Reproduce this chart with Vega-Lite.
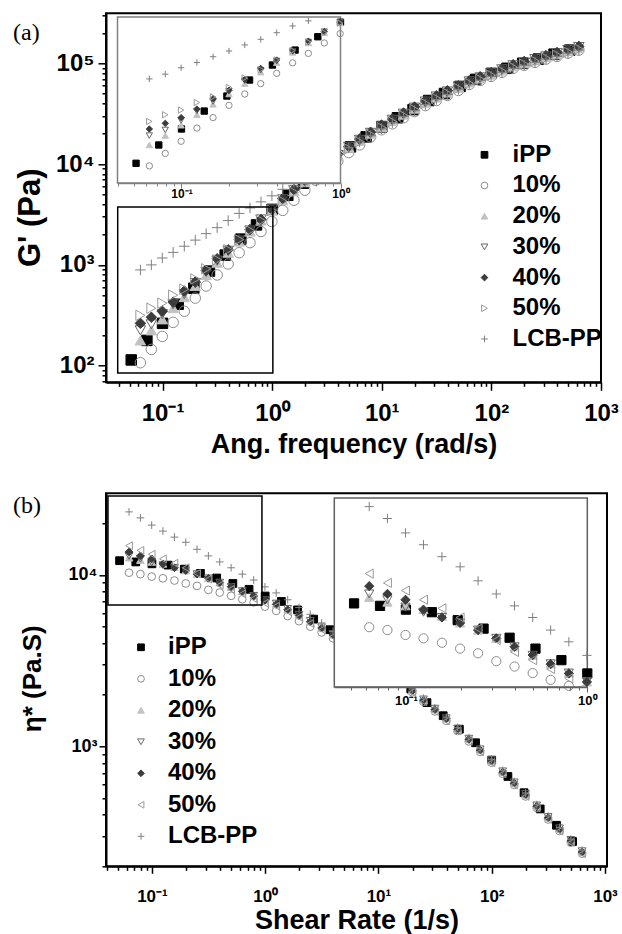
{
"$schema": "https://vega.github.io/schema/vega-lite/v6.json",
"background": "white",
"padding": {"left": 12, "top": 12.3, "right": 0, "bottom": 0},
"bounds": "flush",
"spacing": 111,
"config": {
  "font": "Liberation Sans",
  "view": {"stroke": "black", "strokeWidth": 2},
  "axis": {"grid": false, "domainColor": "black", "domainWidth": 2, "tickColor": "black", "tickWidth": 1.5, "labelFont": "Liberation Sans", "labelFontWeight": "bold", "labelColor": "black", "titleFont": "Liberation Sans", "titleFontWeight": "bold", "titleColor": "black", "labelOverlap": false, "labelFlush": false},
  "legend": {"padding": 0, "labelFont": "Liberation Sans", "labelFontWeight": "bold", "labelColor": "black", "symbolStrokeWidth": 1, "labelLimit": 400}
},
"resolve": {"scale": {"fill": "independent", "stroke": "independent", "shape": "independent"}},
"datasets": {
"a": [
{"s":"iPP","w":0.0518,"v":114},{"s":"iPP","w":0.072,"v":178},{"s":"iPP","w":0.1,"v":263},{"s":"iPP","w":0.139,"v":407},{"s":"iPP","w":0.193,"v":587},{"s":"iPP","w":0.268,"v":867},{"s":"iPP","w":0.373,"v":1250},{"s":"iPP","w":0.518,"v":1800},{"s":"iPP","w":0.72,"v":2490},{"s":"iPP","w":1,"v":3550},{"s":"iPP","w":1.39,"v":4900},{"s":"iPP","w":1.93,"v":6460},{"s":"iPP","w":2.68,"v":8710},{"s":"iPP","w":3.73,"v":11500},{"s":"iPP","w":5.18,"v":14800},{"s":"iPP","w":7.2,"v":18600},{"s":"iPP","w":10,"v":23400},{"s":"iPP","w":13.9,"v":28800},{"s":"iPP","w":19.3,"v":34700},{"s":"iPP","w":26.8,"v":42700},{"s":"iPP","w":37.3,"v":50100},{"s":"iPP","w":51.8,"v":58900},{"s":"iPP","w":72,"v":69200},{"s":"iPP","w":100,"v":79400},{"s":"iPP","w":139,"v":89100},{"s":"iPP","w":193,"v":100000},{"s":"iPP","w":268,"v":110000},{"s":"iPP","w":373,"v":123000},{"s":"iPP","w":518,"v":135000},
{"s":"10%","w":0.0628,"v":107},{"s":"10%","w":0.0791,"v":145},{"s":"10%","w":0.0995,"v":195},{"s":"10%","w":0.125,"v":269},{"s":"10%","w":0.158,"v":347},{"s":"10%","w":0.199,"v":468},{"s":"10%","w":0.25,"v":617},{"s":"10%","w":0.315,"v":794},{"s":"10%","w":0.397,"v":1020},{"s":"10%","w":0.5,"v":1320},{"s":"10%","w":0.628,"v":1660},{"s":"10%","w":0.791,"v":2140},{"s":"10%","w":0.995,"v":2690},{"s":"10%","w":1.25,"v":3470},{"s":"10%","w":1.58,"v":4370},{"s":"10%","w":1.99,"v":5500},{"s":"10%","w":2.5,"v":6920},{"s":"10%","w":3.15,"v":8710},{"s":"10%","w":3.97,"v":10700},{"s":"10%","w":5,"v":13000},{"s":"10%","w":6.28,"v":15500},{"s":"10%","w":7.91,"v":18600},{"s":"10%","w":9.95,"v":21900},{"s":"10%","w":12.5,"v":25100},{"s":"10%","w":15.8,"v":28800},{"s":"10%","w":19.9,"v":33100},{"s":"10%","w":25,"v":38000},{"s":"10%","w":31.5,"v":42700},{"s":"10%","w":39.7,"v":47900},{"s":"10%","w":50,"v":53700},{"s":"10%","w":62.8,"v":61700},{"s":"10%","w":79.1,"v":67600},{"s":"10%","w":99.5,"v":74100},{"s":"10%","w":125,"v":81300},{"s":"10%","w":158,"v":89100},{"s":"10%","w":199,"v":95500},{"s":"10%","w":250,"v":102000},{"s":"10%","w":315,"v":110000},{"s":"10%","w":397,"v":117000},{"s":"10%","w":500,"v":126000},{"s":"10%","w":628,"v":135000},
{"s":"20%","w":0.0628,"v":178},{"s":"20%","w":0.0791,"v":224},{"s":"20%","w":0.0995,"v":288},{"s":"20%","w":0.125,"v":372},{"s":"20%","w":0.158,"v":479},{"s":"20%","w":0.199,"v":617},{"s":"20%","w":0.25,"v":794},{"s":"20%","w":0.315,"v":1050},{"s":"20%","w":0.397,"v":1320},{"s":"20%","w":0.5,"v":1700},{"s":"20%","w":0.628,"v":2140},{"s":"20%","w":0.791,"v":2750},{"s":"20%","w":0.995,"v":3470},{"s":"20%","w":1.25,"v":4370},{"s":"20%","w":1.58,"v":5370},{"s":"20%","w":1.99,"v":6610},{"s":"20%","w":2.5,"v":8130},{"s":"20%","w":3.15,"v":10000},{"s":"20%","w":3.97,"v":12000},{"s":"20%","w":5,"v":14500},{"s":"20%","w":6.28,"v":17000},{"s":"20%","w":7.91,"v":20000},{"s":"20%","w":9.95,"v":23400},{"s":"20%","w":12.5,"v":26900},{"s":"20%","w":15.8,"v":30900},{"s":"20%","w":19.9,"v":35500},{"s":"20%","w":25,"v":40700},{"s":"20%","w":31.5,"v":45700},{"s":"20%","w":39.7,"v":51300},{"s":"20%","w":50,"v":57500},{"s":"20%","w":62.8,"v":64600},{"s":"20%","w":79.1,"v":70800},{"s":"20%","w":99.5,"v":77600},{"s":"20%","w":125,"v":85100},{"s":"20%","w":158,"v":93300},{"s":"20%","w":199,"v":100000},{"s":"20%","w":250,"v":107000},{"s":"20%","w":315,"v":115000},{"s":"20%","w":397,"v":123000},{"s":"20%","w":500,"v":132000},{"s":"20%","w":628,"v":141000},
{"s":"30%","w":0.0628,"v":224},{"s":"30%","w":0.0791,"v":257},{"s":"30%","w":0.0995,"v":324},{"s":"30%","w":0.125,"v":407},{"s":"30%","w":0.158,"v":513},{"s":"30%","w":0.199,"v":661},{"s":"30%","w":0.25,"v":851},{"s":"30%","w":0.315,"v":1100},{"s":"30%","w":0.397,"v":1380},{"s":"30%","w":0.5,"v":1740},{"s":"30%","w":0.628,"v":2190},{"s":"30%","w":0.791,"v":2820},{"s":"30%","w":0.995,"v":3550},{"s":"30%","w":1.25,"v":4470},{"s":"30%","w":1.58,"v":5500},{"s":"30%","w":1.99,"v":6760},{"s":"30%","w":2.5,"v":8320},{"s":"30%","w":3.15,"v":10200},{"s":"30%","w":3.97,"v":12300},{"s":"30%","w":5,"v":14800},{"s":"30%","w":6.28,"v":17400},{"s":"30%","w":7.91,"v":20400},{"s":"30%","w":9.95,"v":24000},{"s":"30%","w":12.5,"v":27500},{"s":"30%","w":15.8,"v":31600},{"s":"30%","w":19.9,"v":36300},{"s":"30%","w":25,"v":41700},{"s":"30%","w":31.5,"v":46800},{"s":"30%","w":39.7,"v":52500},{"s":"30%","w":50,"v":58900},{"s":"30%","w":62.8,"v":66100},{"s":"30%","w":79.1,"v":72400},{"s":"30%","w":99.5,"v":79400},{"s":"30%","w":125,"v":87100},{"s":"30%","w":158,"v":95500},{"s":"30%","w":199,"v":102000},{"s":"30%","w":250,"v":110000},{"s":"30%","w":315,"v":117000},{"s":"30%","w":397,"v":126000},{"s":"30%","w":500,"v":135000},{"s":"30%","w":628,"v":145000},
{"s":"40%","w":0.0628,"v":263},{"s":"40%","w":0.0791,"v":302},{"s":"40%","w":0.0995,"v":347},{"s":"40%","w":0.125,"v":427},{"s":"40%","w":0.158,"v":550},{"s":"40%","w":0.199,"v":676},{"s":"40%","w":0.25,"v":881},{"s":"40%","w":0.315,"v":1150},{"s":"40%","w":0.397,"v":1410},{"s":"40%","w":0.5,"v":1780},{"s":"40%","w":0.628,"v":2240},{"s":"40%","w":0.791,"v":2820},{"s":"40%","w":0.995,"v":3550},{"s":"40%","w":1.25,"v":4540},{"s":"40%","w":1.58,"v":5580},{"s":"40%","w":1.99,"v":6860},{"s":"40%","w":2.5,"v":8440},{"s":"40%","w":3.15,"v":10400},{"s":"40%","w":3.97,"v":12500},{"s":"40%","w":5,"v":15000},{"s":"40%","w":6.28,"v":17700},{"s":"40%","w":7.91,"v":20700},{"s":"40%","w":9.95,"v":24400},{"s":"40%","w":12.5,"v":27900},{"s":"40%","w":15.8,"v":32100},{"s":"40%","w":19.9,"v":36800},{"s":"40%","w":25,"v":42300},{"s":"40%","w":31.5,"v":47500},{"s":"40%","w":39.7,"v":53300},{"s":"40%","w":50,"v":59800},{"s":"40%","w":62.8,"v":67100},{"s":"40%","w":79.1,"v":73500},{"s":"40%","w":99.5,"v":80600},{"s":"40%","w":125,"v":88400},{"s":"40%","w":158,"v":96900},{"s":"40%","w":199,"v":104000},{"s":"40%","w":250,"v":112000},{"s":"40%","w":315,"v":119000},{"s":"40%","w":397,"v":128000},{"s":"40%","w":500,"v":137000},{"s":"40%","w":628,"v":147000},
{"s":"50%","w":0.0628,"v":316},{"s":"50%","w":0.0791,"v":372},{"s":"50%","w":0.0995,"v":417},{"s":"50%","w":0.125,"v":501},{"s":"50%","w":0.158,"v":575},{"s":"50%","w":0.199,"v":724},{"s":"50%","w":0.25,"v":912},{"s":"50%","w":0.315,"v":1120},{"s":"50%","w":0.397,"v":1410},{"s":"50%","w":0.5,"v":1780},{"s":"50%","w":0.628,"v":2190},{"s":"50%","w":0.791,"v":2750},{"s":"50%","w":0.995,"v":3470},{"s":"50%","w":1.25,"v":4270},{"s":"50%","w":1.58,"v":5250},{"s":"50%","w":1.99,"v":6460},{"s":"50%","w":2.5,"v":7940},{"s":"50%","w":3.15,"v":9770},{"s":"50%","w":3.97,"v":11700},{"s":"50%","w":5,"v":14100},{"s":"50%","w":6.28,"v":16600},{"s":"50%","w":7.91,"v":19500},{"s":"50%","w":9.95,"v":22900},{"s":"50%","w":12.5,"v":26300},{"s":"50%","w":15.8,"v":30200},{"s":"50%","w":19.9,"v":34700},{"s":"50%","w":25,"v":39800},{"s":"50%","w":31.5,"v":44700},{"s":"50%","w":39.7,"v":50100},{"s":"50%","w":50,"v":56200},{"s":"50%","w":62.8,"v":63100},{"s":"50%","w":79.1,"v":69200},{"s":"50%","w":99.5,"v":75900},{"s":"50%","w":125,"v":83200},{"s":"50%","w":158,"v":91200},{"s":"50%","w":199,"v":97700},{"s":"50%","w":250,"v":105000},{"s":"50%","w":315,"v":112000},{"s":"50%","w":397,"v":120000},{"s":"50%","w":500,"v":129000},{"s":"50%","w":628,"v":138000},
{"s":"LCB-PP","w":0.0628,"v":891},{"s":"LCB-PP","w":0.0791,"v":1000},{"s":"LCB-PP","w":0.0995,"v":1170},{"s":"LCB-PP","w":0.125,"v":1330},{"s":"LCB-PP","w":0.158,"v":1530},{"s":"LCB-PP","w":0.199,"v":1760},{"s":"LCB-PP","w":0.25,"v":2040},{"s":"LCB-PP","w":0.315,"v":2340},{"s":"LCB-PP","w":0.397,"v":2750},{"s":"LCB-PP","w":0.5,"v":3240},{"s":"LCB-PP","w":0.628,"v":3670},{"s":"LCB-PP","w":0.791,"v":4220},{"s":"LCB-PP","w":0.995,"v":4840},{"s":"LCB-PP","w":1.25,"v":5620},{"s":"LCB-PP","w":1.58,"v":6610},{"s":"LCB-PP","w":1.99,"v":7760},{"s":"LCB-PP","w":2.5,"v":9120},{"s":"LCB-PP","w":3.15,"v":10700},{"s":"LCB-PP","w":3.97,"v":12400},{"s":"LCB-PP","w":5,"v":14500},{"s":"LCB-PP","w":6.28,"v":16600},{"s":"LCB-PP","w":7.91,"v":19100},{"s":"LCB-PP","w":9.95,"v":22400},{"s":"LCB-PP","w":12.5,"v":25700},{"s":"LCB-PP","w":15.8,"v":29500},{"s":"LCB-PP","w":19.9,"v":33900},{"s":"LCB-PP","w":25,"v":38900},{"s":"LCB-PP","w":31.5,"v":43700},{"s":"LCB-PP","w":39.7,"v":49000},{"s":"LCB-PP","w":50,"v":55000},{"s":"LCB-PP","w":62.8,"v":61700},{"s":"LCB-PP","w":79.1,"v":67600},{"s":"LCB-PP","w":99.5,"v":74100},{"s":"LCB-PP","w":125,"v":81300},{"s":"LCB-PP","w":158,"v":89100},{"s":"LCB-PP","w":199,"v":95500},{"s":"LCB-PP","w":250,"v":102000},{"s":"LCB-PP","w":315,"v":110000},{"s":"LCB-PP","w":397,"v":117000},{"s":"LCB-PP","w":500,"v":126000},{"s":"LCB-PP","w":628,"v":135000}
],
"b": [
{"s":"iPP","w":0.0518,"v":12100},{"s":"iPP","w":0.072,"v":11900},{"s":"iPP","w":0.1,"v":11600},{"s":"iPP","w":0.139,"v":11400},{"s":"iPP","w":0.193,"v":10800},{"s":"iPP","w":0.268,"v":10200},{"s":"iPP","w":0.373,"v":9590},{"s":"iPP","w":0.518,"v":8910},{"s":"iPP","w":0.72,"v":8240},{"s":"iPP","w":1,"v":7530},{"s":"iPP","w":1.39,"v":7000},{"s":"iPP","w":1.93,"v":6250},{"s":"iPP","w":2.68,"v":5520},{"s":"iPP","w":3.73,"v":4790},{"s":"iPP","w":5.18,"v":4070},{"s":"iPP","w":7.2,"v":3510},{"s":"iPP","w":10,"v":3020},{"s":"iPP","w":13.9,"v":2570},{"s":"iPP","w":19.3,"v":2160},{"s":"iPP","w":26.8,"v":1800},{"s":"iPP","w":37.3,"v":1510},{"s":"iPP","w":51.8,"v":1260},{"s":"iPP","w":72,"v":1050},{"s":"iPP","w":100,"v":832},{"s":"iPP","w":139,"v":668},{"s":"iPP","w":193,"v":537},{"s":"iPP","w":268,"v":432},{"s":"iPP","w":373,"v":347},{"s":"iPP","w":518,"v":279},
{"s":"10%","w":0.0628,"v":10300},{"s":"10%","w":0.0791,"v":10100},{"s":"10%","w":0.0995,"v":9770},{"s":"10%","w":0.125,"v":9550},{"s":"10%","w":0.158,"v":9270},{"s":"10%","w":0.199,"v":8910},{"s":"10%","w":0.25,"v":8630},{"s":"10%","w":0.315,"v":8180},{"s":"10%","w":0.397,"v":7890},{"s":"10%","w":0.5,"v":7550},{"s":"10%","w":0.628,"v":7210},{"s":"10%","w":0.791,"v":6920},{"s":"10%","w":0.995,"v":6530},{"s":"10%","w":1.25,"v":6170},{"s":"10%","w":1.58,"v":5750},{"s":"10%","w":1.99,"v":5370},{"s":"10%","w":2.5,"v":4990},{"s":"10%","w":3.15,"v":4620},{"s":"10%","w":3.97,"v":4270},{"s":"10%","w":5,"v":3910},{"s":"10%","w":6.28,"v":3560},{"s":"10%","w":7.91,"v":3240},{"s":"10%","w":9.95,"v":2920},{"s":"10%","w":12.5,"v":2620},{"s":"10%","w":15.8,"v":2340},{"s":"10%","w":19.9,"v":2070},{"s":"10%","w":25,"v":1820},{"s":"10%","w":31.5,"v":1600},{"s":"10%","w":39.7,"v":1410},{"s":"10%","w":50,"v":1230},{"s":"10%","w":62.8,"v":1070},{"s":"10%","w":79.1,"v":929},{"s":"10%","w":99.5,"v":804},{"s":"10%","w":125,"v":692},{"s":"10%","w":158,"v":596},{"s":"10%","w":199,"v":511},{"s":"10%","w":250,"v":438},{"s":"10%","w":315,"v":375},{"s":"10%","w":397,"v":321},{"s":"10%","w":500,"v":275},{"s":"10%","w":628,"v":237},
{"s":"20%","w":0.0628,"v":12600},{"s":"20%","w":0.0791,"v":12200},{"s":"20%","w":0.0995,"v":11900},{"s":"20%","w":0.125,"v":11600},{"s":"20%","w":0.158,"v":11100},{"s":"20%","w":0.199,"v":10600},{"s":"20%","w":0.25,"v":10100},{"s":"20%","w":0.315,"v":9550},{"s":"20%","w":0.397,"v":9020},{"s":"20%","w":0.5,"v":8510},{"s":"20%","w":0.628,"v":8040},{"s":"20%","w":0.791,"v":7550},{"s":"20%","w":0.995,"v":7110},{"s":"20%","w":1.25,"v":6730},{"s":"20%","w":1.58,"v":6270},{"s":"20%","w":1.99,"v":5790},{"s":"20%","w":2.5,"v":5330},{"s":"20%","w":3.15,"v":4900},{"s":"20%","w":3.97,"v":4470},{"s":"20%","w":5,"v":4060},{"s":"20%","w":6.28,"v":3660},{"s":"20%","w":7.91,"v":3310},{"s":"20%","w":9.95,"v":2990},{"s":"20%","w":12.5,"v":2680},{"s":"20%","w":15.8,"v":2400},{"s":"20%","w":19.9,"v":2110},{"s":"20%","w":25,"v":1860},{"s":"20%","w":31.5,"v":1640},{"s":"20%","w":39.7,"v":1450},{"s":"20%","w":50,"v":1260},{"s":"20%","w":62.8,"v":1100},{"s":"20%","w":79.1,"v":951},{"s":"20%","w":99.5,"v":822},{"s":"20%","w":125,"v":708},{"s":"20%","w":158,"v":610},{"s":"20%","w":199,"v":522},{"s":"20%","w":250,"v":448},{"s":"20%","w":315,"v":384},{"s":"20%","w":397,"v":329},{"s":"20%","w":500,"v":282},{"s":"20%","w":628,"v":242},
{"s":"30%","w":0.0628,"v":12900},{"s":"30%","w":0.0791,"v":12400},{"s":"30%","w":0.0995,"v":11800},{"s":"30%","w":0.125,"v":11400},{"s":"30%","w":0.158,"v":11000},{"s":"30%","w":0.199,"v":10600},{"s":"30%","w":0.25,"v":10100},{"s":"30%","w":0.315,"v":9550},{"s":"30%","w":0.397,"v":9020},{"s":"30%","w":0.5,"v":8510},{"s":"30%","w":0.628,"v":8040},{"s":"30%","w":0.791,"v":7550},{"s":"30%","w":0.995,"v":7130},{"s":"30%","w":1.25,"v":6810},{"s":"30%","w":1.58,"v":6340},{"s":"30%","w":1.99,"v":5860},{"s":"30%","w":2.5,"v":5400},{"s":"30%","w":3.15,"v":4950},{"s":"30%","w":3.97,"v":4520},{"s":"30%","w":5,"v":4100},{"s":"30%","w":6.28,"v":3710},{"s":"30%","w":7.91,"v":3350},{"s":"30%","w":9.95,"v":3020},{"s":"30%","w":12.5,"v":2710},{"s":"30%","w":15.8,"v":2430},{"s":"30%","w":19.9,"v":2140},{"s":"30%","w":25,"v":1880},{"s":"30%","w":31.5,"v":1660},{"s":"30%","w":39.7,"v":1460},{"s":"30%","w":50,"v":1270},{"s":"30%","w":62.8,"v":1110},{"s":"30%","w":79.1,"v":962},{"s":"30%","w":99.5,"v":832},{"s":"30%","w":125,"v":716},{"s":"30%","w":158,"v":617},{"s":"30%","w":199,"v":528},{"s":"30%","w":250,"v":453},{"s":"30%","w":315,"v":388},{"s":"30%","w":397,"v":333},{"s":"30%","w":500,"v":285},{"s":"30%","w":628,"v":245},
{"s":"40%","w":0.0628,"v":13600},{"s":"40%","w":0.0791,"v":12900},{"s":"40%","w":0.0995,"v":12400},{"s":"40%","w":0.125,"v":11600},{"s":"40%","w":0.158,"v":11000},{"s":"40%","w":0.199,"v":10600},{"s":"40%","w":0.25,"v":10100},{"s":"40%","w":0.315,"v":9550},{"s":"40%","w":0.397,"v":9020},{"s":"40%","w":0.5,"v":8530},{"s":"40%","w":0.628,"v":8020},{"s":"40%","w":0.791,"v":7530},{"s":"40%","w":0.995,"v":7110},{"s":"40%","w":1.25,"v":6730},{"s":"40%","w":1.58,"v":6270},{"s":"40%","w":1.99,"v":5790},{"s":"40%","w":2.5,"v":5330},{"s":"40%","w":3.15,"v":4900},{"s":"40%","w":3.97,"v":4470},{"s":"40%","w":5,"v":4060},{"s":"40%","w":6.28,"v":3660},{"s":"40%","w":7.91,"v":3310},{"s":"40%","w":9.95,"v":2990},{"s":"40%","w":12.5,"v":2680},{"s":"40%","w":15.8,"v":2400},{"s":"40%","w":19.9,"v":2110},{"s":"40%","w":25,"v":1860},{"s":"40%","w":31.5,"v":1640},{"s":"40%","w":39.7,"v":1450},{"s":"40%","w":50,"v":1260},{"s":"40%","w":62.8,"v":1100},{"s":"40%","w":79.1,"v":951},{"s":"40%","w":99.5,"v":822},{"s":"40%","w":125,"v":708},{"s":"40%","w":158,"v":610},{"s":"40%","w":199,"v":522},{"s":"40%","w":250,"v":448},{"s":"40%","w":315,"v":384},{"s":"40%","w":397,"v":329},{"s":"40%","w":500,"v":282},{"s":"40%","w":628,"v":242},
{"s":"50%","w":0.0628,"v":14800},{"s":"50%","w":0.0791,"v":13900},{"s":"50%","w":0.0995,"v":13200},{"s":"50%","w":0.125,"v":12400},{"s":"50%","w":0.158,"v":11700},{"s":"50%","w":0.199,"v":11000},{"s":"50%","w":0.25,"v":10200},{"s":"50%","w":0.315,"v":9440},{"s":"50%","w":0.397,"v":8710},{"s":"50%","w":0.5,"v":8240},{"s":"50%","w":0.628,"v":7760},{"s":"50%","w":0.791,"v":7280},{"s":"50%","w":0.995,"v":6840},{"s":"50%","w":1.25,"v":6580},{"s":"50%","w":1.58,"v":6120},{"s":"50%","w":1.99,"v":5660},{"s":"50%","w":2.5,"v":5210},{"s":"50%","w":3.15,"v":4790},{"s":"50%","w":3.97,"v":4370},{"s":"50%","w":5,"v":3960},{"s":"50%","w":6.28,"v":3580},{"s":"50%","w":7.91,"v":3240},{"s":"50%","w":9.95,"v":2920},{"s":"50%","w":12.5,"v":2620},{"s":"50%","w":15.8,"v":2340},{"s":"50%","w":19.9,"v":2070},{"s":"50%","w":25,"v":1820},{"s":"50%","w":31.5,"v":1600},{"s":"50%","w":39.7,"v":1410},{"s":"50%","w":50,"v":1230},{"s":"50%","w":62.8,"v":1070},{"s":"50%","w":79.1,"v":929},{"s":"50%","w":99.5,"v":804},{"s":"50%","w":125,"v":692},{"s":"50%","w":158,"v":596},{"s":"50%","w":199,"v":511},{"s":"50%","w":250,"v":438},{"s":"50%","w":315,"v":375},{"s":"50%","w":397,"v":321},{"s":"50%","w":500,"v":275},{"s":"50%","w":628,"v":237},
{"s":"LCB-PP","w":0.0628,"v":23300},{"s":"LCB-PP","w":0.0791,"v":21500},{"s":"LCB-PP","w":0.0995,"v":19500},{"s":"LCB-PP","w":0.125,"v":18000},{"s":"LCB-PP","w":0.158,"v":16600},{"s":"LCB-PP","w":0.199,"v":15500},{"s":"LCB-PP","w":0.25,"v":14100},{"s":"LCB-PP","w":0.315,"v":12900},{"s":"LCB-PP","w":0.397,"v":11900},{"s":"LCB-PP","w":0.5,"v":11000},{"s":"LCB-PP","w":0.628,"v":10100},{"s":"LCB-PP","w":0.791,"v":9330},{"s":"LCB-PP","w":0.995,"v":8510},{"s":"LCB-PP","w":1.25,"v":7850},{"s":"LCB-PP","w":1.58,"v":7160},{"s":"LCB-PP","w":1.99,"v":6460},{"s":"LCB-PP","w":2.5,"v":5890},{"s":"LCB-PP","w":3.15,"v":5250},{"s":"LCB-PP","w":3.97,"v":4680},{"s":"LCB-PP","w":5,"v":4170},{"s":"LCB-PP","w":6.28,"v":3720},{"s":"LCB-PP","w":7.91,"v":3350},{"s":"LCB-PP","w":9.95,"v":3020},{"s":"LCB-PP","w":12.5,"v":2740},{"s":"LCB-PP","w":15.8,"v":2450},{"s":"LCB-PP","w":19.9,"v":2160},{"s":"LCB-PP","w":25,"v":1910},{"s":"LCB-PP","w":31.5,"v":1680},{"s":"LCB-PP","w":39.7,"v":1480},{"s":"LCB-PP","w":50,"v":1290},{"s":"LCB-PP","w":62.8,"v":1120},{"s":"LCB-PP","w":79.1,"v":973},{"s":"LCB-PP","w":99.5,"v":841},{"s":"LCB-PP","w":125,"v":724},{"s":"LCB-PP","w":158,"v":624},{"s":"LCB-PP","w":199,"v":535},{"s":"LCB-PP","w":250,"v":458},{"s":"LCB-PP","w":315,"v":393},{"s":"LCB-PP","w":397,"v":337},{"s":"LCB-PP","w":500,"v":288},{"s":"LCB-PP","w":628,"v":248}
]
},
"vconcat": [
{
 "width": 495, "height": 369,
 "title": {"text": "(a)", "orient": "none", "anchor": "start", "frame": "group", "offset": 0, "dx": -93, "dy": 27, "baseline": "alphabetic", "font": "Liberation Serif", "fontSize": 24, "fontWeight": "normal", "color": "black"},
 "data": {"name": "a"},
 "resolve": {"scale": {"x": "independent", "y": "independent"}, "axis": {"x": "independent", "y": "independent"}},
 "layer": [
   {"mark": {"type": "point", "size": 110, "strokeWidth": 1, "opacity": 1},
    "encoding": {
     "x": {"field": "w", "type": "quantitative", "scale": {"type": "log", "domain": [0.0305, 1000], "nice": false},
       "axis": {"values": [0.04,0.05,0.06,0.07,0.08,0.09,0.1,0.2,0.3,0.4,0.5,0.6,0.7,0.8,0.9,1,2,3,4,5,6,7,8,9,10,20,30,40,50,60,70,80,90,100,200,300,400,500,600,700,800,900,1000],
        "labelExpr": "abs(log(datum.value)/LN10-round(log(datum.value)/LN10))<0.001 ? '10'+['⁻¹','⁰','¹','²','³','⁴','⁵'][round(log(datum.value)/LN10)+1] : ''",
        "tickSize": {"condition": {"test": "abs(log(datum.value)/LN10-round(log(datum.value)/LN10))<0.001", "value": 8}, "value": 4},
        "labelFontSize": 24, "labelBaseline": "alphabetic", "labelPadding": 30,
        "title": "Ang. frequency (rad/s)", "titleFontSize": 27, "titleY": 70, "titleBaseline": "alphabetic"}},
     "y": {"field": "v", "type": "quantitative", "scale": {"type": "log", "domain": [68.4, 313000], "nice": false},
       "axis": {"values": [70,80,90,100,200,300,400,500,600,700,800,900,1000,2000,3000,4000,5000,6000,7000,8000,9000,10000,20000,30000,40000,50000,60000,70000,80000,90000,100000,200000,300000],
        "labelExpr": "abs(log(datum.value)/LN10-round(log(datum.value)/LN10))<0.001 ? '10'+['⁻¹','⁰','¹','²','³','⁴','⁵'][round(log(datum.value)/LN10)+1] : ''",
        "tickSize": {"condition": {"test": "abs(log(datum.value)/LN10-round(log(datum.value)/LN10))<0.001", "value": 8}, "value": 4},
        "labelFontSize": {"condition": {"test": "abs(log(datum.value)/LN10-round(log(datum.value)/LN10))<0.001", "value": 24}, "value": 1},
        "labelPadding": 4,
        "title": "G' (Pa)", "titleFontSize": 31, "titleX": -67, "titleY": 204, "titleAlign": "center", "titleBaseline": "alphabetic"}},
     "fill": {"field": "s", "type": "nominal", "scale": {"domain": ["iPP","10%","20%","30%","40%","50%","LCB-PP"], "range": ["#000000","transparent","#c2c2c2","transparent","#3c3c3c","transparent","transparent"]},
       "legend": {"orient": "none", "legendX": 366.5, "legendY": 129.5, "title": null, "labelFontSize": 24, "symbolSize": 45, "rowPadding": 6.7, "labelOffset": 16}},
     "stroke": {"field": "s", "type": "nominal", "scale": {"domain": ["iPP","10%","20%","30%","40%","50%","LCB-PP"], "range": ["#000000","#8c8c8c","#c2c2c2","#666666","#3c3c3c","#9a9a9a","#808080"]},
       "legend": {"orient": "none", "legendX": 366.5, "legendY": 129.5, "title": null, "labelFontSize": 24, "symbolSize": 45, "rowPadding": 6.7, "labelOffset": 16}},
     "shape": {"field": "s", "type": "nominal", "scale": {"domain": ["iPP","10%","20%","30%","40%","50%","LCB-PP"], "range": ["square","circle","triangle-up","triangle-down","diamond","triangle-right","M-1,0L1,0M0,-1L0,1"]},
       "legend": {"orient": "none", "legendX": 366.5, "legendY": 129.5, "title": null, "labelFontSize": 24, "symbolSize": 45, "rowPadding": 6.7, "labelOffset": 16}}
    }},
   {"data": {"values": [{}]},
    "mark": {"type": "rect", "filled": false, "stroke": "black", "strokeWidth": 1.5},
    "encoding": {
     "x": {"datum": 0.039, "type": "quantitative", "scale": {"type": "log", "domain": [0.0305, 1000], "nice": false}, "axis": null},
     "x2": {"datum": 1.015},
     "y": {"datum": 84.7, "type": "quantitative", "scale": {"type": "log", "domain": [68.4, 313000], "nice": false}, "axis": null},
     "y2": {"datum": 3750}
    }},
   {"data": {"values": [{}]},
    "mark": {"type": "rect", "fill": "white", "stroke": "#808080", "strokeWidth": 1.5},
    "encoding": {
     "x": {"datum": 0.0396, "type": "quantitative", "scale": {"type": "log", "domain": [0.0396, 1], "range": [11.5, 234.5], "nice": false}, "axis": null},
     "x2": {"datum": 1},
     "y": {"datum": 70.5, "type": "quantitative", "scale": {"type": "log", "domain": [70.5, 4030], "range": [169.7, 3.7], "nice": false}, "axis": null},
     "y2": {"datum": 4030}
    }},
   {"transform": [{"filter": {"field": "w", "range": [0.0396, 1]}}, {"filter": {"field": "v", "range": [70.5, 4030]}}],
    "mark": {"type": "point", "size": 40, "strokeWidth": 1, "opacity": 1},
    "encoding": {
     "x": {"field": "w", "type": "quantitative", "scale": {"type": "log", "domain": [0.0396, 1], "range": [11.5, 234.5], "nice": false},
       "axis": {"orient": "bottom", "offset": -199.3, "zindex": 1, "values": [0.04,0.05,0.06,0.07,0.08,0.09,0.1,0.2,0.3,0.4,0.5,0.6,0.7,0.8,0.9,1],
        "labelExpr": "abs(log(datum.value)/LN10-round(log(datum.value)/LN10))<0.001 ? '10'+['⁻¹','⁰','¹','²','³','⁴','⁵'][round(log(datum.value)/LN10)+1] : ''",
        "tickSize": {"condition": {"test": "abs(log(datum.value)/LN10-round(log(datum.value)/LN10))<0.001", "value": 5}, "value": 3},
        "labelFontSize": 12, "labelPadding": 1, "title": null, "domainColor": "#808080", "domainWidth": 1.5, "tickColor": "#808080", "tickWidth": 1}},
     "y": {"field": "v", "type": "quantitative", "scale": {"type": "log", "domain": [70.5, 4030], "range": [169.7, 3.7], "nice": false}, "axis": null},
     "fill": {"field": "s", "type": "nominal", "scale": {"domain": ["iPP","10%","20%","30%","40%","50%","LCB-PP"], "range": ["#000000","transparent","#c2c2c2","transparent","#3c3c3c","transparent","transparent"]},
       "legend": {"orient": "none", "legendX": 366.5, "legendY": 129.5, "title": null, "labelFontSize": 24, "symbolSize": 45, "rowPadding": 6.7, "labelOffset": 16}},
     "stroke": {"field": "s", "type": "nominal", "scale": {"domain": ["iPP","10%","20%","30%","40%","50%","LCB-PP"], "range": ["#000000","#8c8c8c","#c2c2c2","#666666","#3c3c3c","#9a9a9a","#808080"]},
       "legend": {"orient": "none", "legendX": 366.5, "legendY": 129.5, "title": null, "labelFontSize": 24, "symbolSize": 45, "rowPadding": 6.7, "labelOffset": 16}},
     "shape": {"field": "s", "type": "nominal", "scale": {"domain": ["iPP","10%","20%","30%","40%","50%","LCB-PP"], "range": ["square","circle","triangle-up","triangle-down","diamond","triangle-right","M-1,0L1,0M0,-1L0,1"]},
       "legend": {"orient": "none", "legendX": 366.5, "legendY": 129.5, "title": null, "labelFontSize": 24, "symbolSize": 45, "rowPadding": 6.7, "labelOffset": 16}}
    }}
 ]
},
{
 "width": 501, "height": 373,
 "title": {"text": "(b)", "orient": "none", "anchor": "start", "frame": "group", "offset": 0, "dx": -93, "dy": 20, "baseline": "alphabetic", "font": "Liberation Serif", "fontSize": 24, "fontWeight": "normal", "color": "black"},
 "data": {"name": "b"},
 "resolve": {"scale": {"x": "independent", "y": "independent"}, "axis": {"x": "independent", "y": "independent"}},
 "layer": [
   {"mark": {"type": "point", "size": 60, "strokeWidth": 1, "opacity": 1},
    "encoding": {
     "x": {"field": "w", "type": "quantitative", "scale": {"type": "log", "domain": [0.0393, 1042], "nice": false},
       "axis": {"values": [0.04,0.05,0.06,0.07,0.08,0.09,0.1,0.2,0.3,0.4,0.5,0.6,0.7,0.8,0.9,1,2,3,4,5,6,7,8,9,10,20,30,40,50,60,70,80,90,100,200,300,400,500,600,700,800,900,1000],
        "labelExpr": "abs(log(datum.value)/LN10-round(log(datum.value)/LN10))<0.001 ? '10'+['⁻¹','⁰','¹','²','³','⁴','⁵'][round(log(datum.value)/LN10)+1] : ''",
        "tickSize": {"condition": {"test": "abs(log(datum.value)/LN10-round(log(datum.value)/LN10))<0.001", "value": 7}, "value": 4},
        "labelFontSize": 17, "labelBaseline": "alphabetic", "labelPadding": 28,
        "title": "Shear Rate (1/s)", "titleFontSize": 27, "titleY": 62, "titleBaseline": "alphabetic"}},
     "y": {"field": "v", "type": "quantitative", "scale": {"type": "log", "domain": [200, 29900], "nice": false},
       "axis": {"values": [200,300,400,500,600,700,800,900,1000,2000,3000,4000,5000,6000,7000,8000,9000,10000,20000],
        "labelExpr": "abs(log(datum.value)/LN10-round(log(datum.value)/LN10))<0.001 ? '10'+['⁻¹','⁰','¹','²','³','⁴','⁵'][round(log(datum.value)/LN10)+1] : ''",
        "tickSize": {"condition": {"test": "abs(log(datum.value)/LN10-round(log(datum.value)/LN10))<0.001", "value": 7}, "value": 4},
        "labelFontSize": {"condition": {"test": "abs(log(datum.value)/LN10-round(log(datum.value)/LN10))<0.001", "value": 18}, "value": 1},
        "labelPadding": 2,
        "title": "η*  (Pa.S)", "titleFontSize": 26, "titleX": -66, "titleY": 185, "titleAlign": "center", "titleBaseline": "alphabetic"}},
     "fill": {"field": "s", "type": "nominal", "scale": {"domain": ["iPP","10%","20%","30%","40%","50%","LCB-PP"], "range": ["#000000","transparent","#c2c2c2","transparent","#3c3c3c","transparent","transparent"]},
       "legend": {"orient": "none", "legendX": 23, "legendY": 142, "title": null, "labelFontSize": 24, "symbolSize": 45, "rowPadding": 7.5, "labelOffset": 15}},
     "stroke": {"field": "s", "type": "nominal", "scale": {"domain": ["iPP","10%","20%","30%","40%","50%","LCB-PP"], "range": ["#000000","#8c8c8c","#c2c2c2","#666666","#3c3c3c","#9a9a9a","#808080"]},
       "legend": {"orient": "none", "legendX": 23, "legendY": 142, "title": null, "labelFontSize": 24, "symbolSize": 45, "rowPadding": 7.5, "labelOffset": 15}},
     "shape": {"field": "s", "type": "nominal", "scale": {"domain": ["iPP","10%","20%","30%","40%","50%","LCB-PP"], "range": ["square","circle","triangle-up","triangle-down","diamond","triangle-left","M-1,0L1,0M0,-1L0,1"]},
       "legend": {"orient": "none", "legendX": 23, "legendY": 142, "title": null, "labelFontSize": 24, "symbolSize": 45, "rowPadding": 7.5, "labelOffset": 15}}
    }},
   {"data": {"values": [{}]},
    "mark": {"type": "rect", "filled": false, "stroke": "black", "strokeWidth": 1.5},
    "encoding": {
     "x": {"datum": 0.0409, "type": "quantitative", "scale": {"type": "log", "domain": [0.0393, 1042], "nice": false}, "axis": null},
     "x2": {"datum": 0.936},
     "y": {"datum": 6680, "type": "quantitative", "scale": {"type": "log", "domain": [200, 29900], "nice": false}, "axis": null},
     "y2": {"datum": 28800}
    }},
   {"data": {"values": [{}]},
    "mark": {"type": "rect", "fill": "white", "stroke": "#606060", "strokeWidth": 1.5},
    "encoding": {
     "x": {"datum": 0.0403, "type": "quantitative", "scale": {"type": "log", "domain": [0.0403, 1], "range": [228.3, 481.3], "nice": false}, "axis": null},
     "x2": {"datum": 1},
     "y": {"datum": 6870, "type": "quantitative", "scale": {"type": "log", "domain": [6870, 24700], "range": [193.7, 4.7], "nice": false}, "axis": null},
     "y2": {"datum": 24700}
    }},
   {"transform": [{"filter": {"field": "w", "range": [0.0403, 1]}}, {"filter": {"field": "v", "range": [6870, 24700]}}],
    "mark": {"type": "point", "size": 85, "strokeWidth": 1, "opacity": 1},
    "encoding": {
     "x": {"field": "w", "type": "quantitative", "scale": {"type": "log", "domain": [0.0403, 1], "range": [228.3, 481.3], "nice": false},
       "axis": {"orient": "bottom", "offset": -179.3, "zindex": 1, "values": [0.05,0.06,0.07,0.08,0.09,0.1,0.2,0.3,0.4,0.5,0.6,0.7,0.8,0.9,1],
        "labelExpr": "abs(log(datum.value)/LN10-round(log(datum.value)/LN10))<0.001 ? '10'+['⁻¹','⁰','¹','²','³','⁴','⁵'][round(log(datum.value)/LN10)+1] : ''",
        "tickSize": {"condition": {"test": "abs(log(datum.value)/LN10-round(log(datum.value)/LN10))<0.001", "value": 5}, "value": 3},
        "labelFontSize": 13, "labelPadding": 3, "title": null, "domainColor": "#606060", "domainWidth": 1.5, "tickColor": "#606060", "tickWidth": 1}},
     "y": {"field": "v", "type": "quantitative", "scale": {"type": "log", "domain": [6870, 24700], "range": [193.7, 4.7], "nice": false}, "axis": null},
     "fill": {"field": "s", "type": "nominal", "scale": {"domain": ["iPP","10%","20%","30%","40%","50%","LCB-PP"], "range": ["#000000","transparent","#c2c2c2","transparent","#3c3c3c","transparent","transparent"]},
       "legend": {"orient": "none", "legendX": 23, "legendY": 142, "title": null, "labelFontSize": 24, "symbolSize": 45, "rowPadding": 7.5, "labelOffset": 15}},
     "stroke": {"field": "s", "type": "nominal", "scale": {"domain": ["iPP","10%","20%","30%","40%","50%","LCB-PP"], "range": ["#000000","#8c8c8c","#c2c2c2","#666666","#3c3c3c","#9a9a9a","#808080"]},
       "legend": {"orient": "none", "legendX": 23, "legendY": 142, "title": null, "labelFontSize": 24, "symbolSize": 45, "rowPadding": 7.5, "labelOffset": 15}},
     "shape": {"field": "s", "type": "nominal", "scale": {"domain": ["iPP","10%","20%","30%","40%","50%","LCB-PP"], "range": ["square","circle","triangle-up","triangle-down","diamond","triangle-left","M-1,0L1,0M0,-1L0,1"]},
       "legend": {"orient": "none", "legendX": 23, "legendY": 142, "title": null, "labelFontSize": 24, "symbolSize": 45, "rowPadding": 7.5, "labelOffset": 15}}
    }}
 ]
}
]
}
